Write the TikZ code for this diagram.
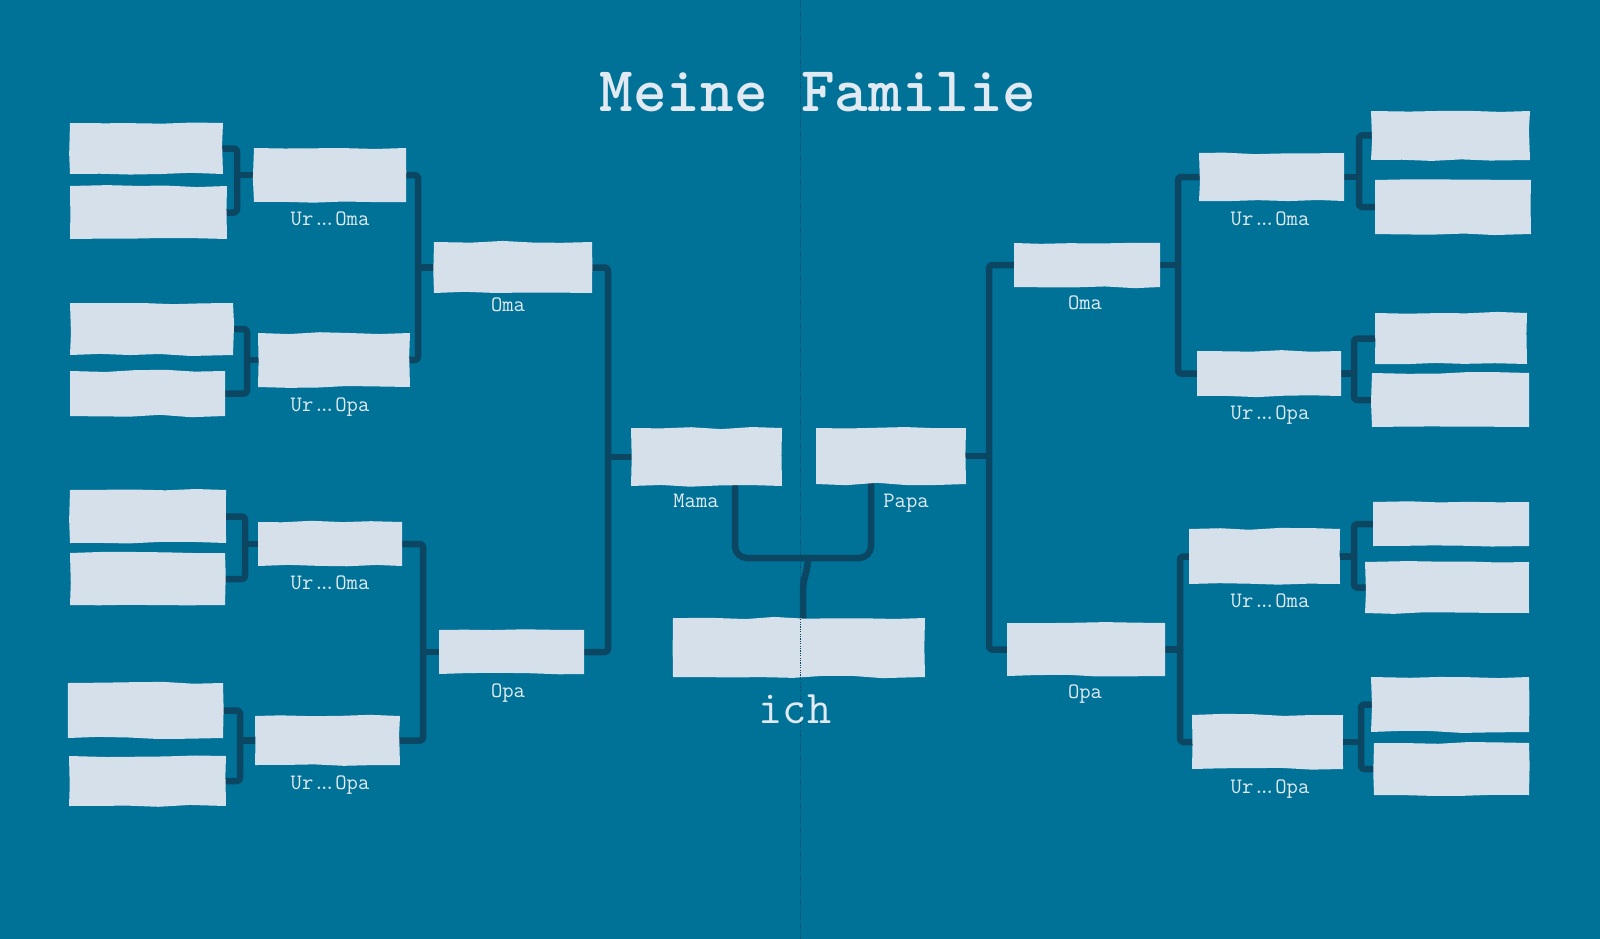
\documentclass[tikz,border=0pt]{standalone}
\usepackage{fontspec}
\usetikzlibrary{decorations.pathmorphing,backgrounds}
\definecolor{bg}{HTML}{007298}
\definecolor{boxc}{HTML}{D6E0EA}
\definecolor{linec}{HTML}{0B4763}
\definecolor{txt}{HTML}{E1EAF2}
\definecolor{foldc}{HTML}{0A4A66}
\newcommand\famdots{.\kern-6pt.\kern-6pt.}
\newcommand\famb[5]{\node[pbox,minimum width={(#4-#2)*1pt},minimum height={(#5-#3)*1pt}] (#1) at ({(#2+#4)/2},{(#3+#5)/2}) {};}
\newcommand\joinL[4]{\draw[conn] (#1.east) -- (#1.east -| #4) -- (#2.east -| #4) -- (#2.east); \draw[conn] (#3.west -| #4) -- (#3.west);}
\newcommand\joinR[4]{\draw[conn] (#1.west) -- (#1.west -| #4) -- (#2.west -| #4) -- (#2.west); \draw[conn] (#3.east -| #4) -- (#3.east);}
\begin{document}
\pgfmathsetseed{7}
\begin{tikzpicture}[x=1pt,y=-1pt,
  pbox/.style={fill=boxc, inner sep=0pt, decorate, decoration={random steps,segment length=30pt,amplitude=1.2pt}},
  conn/.style={draw=linec, line width=6.5pt, line cap=round, line join=round, rounded corners=3pt},
  lab/.style={text=txt, font=\ttfamily\fontsize{22}{22}\selectfont, anchor=base},
  ttl/.style={text=txt, font=\ttfamily\bfseries\fontsize{64}{64}\selectfont, anchor=base},
  ichs/.style={text=txt, font=\ttfamily\fontsize{47}{47}\selectfont, anchor=base}]
\useasboundingbox (0,0) rectangle (1600,939);
% left generation 4
\famb{L1}{70}{123}{223}{174}
\famb{L2}{70}{186}{227}{239}
\famb{L3}{70}{303}{233}{355}
\famb{L4}{70}{371}{225}{416}
\famb{L5}{70}{490}{226}{543}
\famb{L6}{70}{553}{225}{605}
\famb{L7}{68}{683}{223}{738}
\famb{L8}{69}{756}{226}{806}
% left generation 3
\famb{LA}{254}{148}{406}{202}
\famb{LB}{258}{333}{410}{387}
\famb{LC}{258}{522}{402}{566}
\famb{LD}{255}{716}{400}{765}
% left generation 2
\famb{LOma}{434}{242}{592}{293}
\famb{LOpa}{439}{630}{584}{674}
% parents and me
\famb{Mama}{631}{428}{782}{486}
\famb{Papa}{816}{428}{966}{484}
\famb{ich}{673}{618}{925}{677}
% right generation 2
\famb{ROma}{1014}{243}{1160}{287}
\famb{ROpa}{1007}{623}{1165}{676}
% right generation 3
\famb{RA}{1199}{153}{1344}{201}
\famb{RB}{1197}{351}{1341}{396}
\famb{RC}{1189}{529}{1340}{584}
\famb{RD}{1192}{715}{1343}{769}
% right generation 4
\famb{R1}{1371}{111}{1530}{160}
\famb{R2}{1375}{180}{1531}{234}
\famb{R3}{1375}{313}{1527}{364}
\famb{R4}{1372}{373}{1529}{427}
\famb{R5}{1373}{502}{1529}{546}
\famb{R6}{1365}{562}{1529}{613}
\famb{R7}{1371}{677}{1529}{732}
\famb{R8}{1374}{743}{1529}{795}
% vertical line positions
\coordinate (v1) at (237,0);
\coordinate (v2) at (247,0);
\coordinate (v3) at (245,0);
\coordinate (v4) at (240,0);
\coordinate (vA) at (418,0);
\coordinate (vB) at (423,0);
\coordinate (vM) at (608,0);
\coordinate (vP) at (989,0);
\coordinate (vR1) at (1178,0);
\coordinate (vR2) at (1180,0);
\coordinate (w1) at (1359,0);
\coordinate (w2) at (1354,0);
\coordinate (w3) at (1354,0);
\coordinate (w4) at (1361,0);
\coordinate (mx) at (735,558);
\coordinate (px) at (871,558);
\coordinate (jn) at (808,558);
\coordinate (jn2) at (803,590);
\begin{pgfonlayer}{background}
\fill[bg] (0,0) rectangle (1600,939);
\joinL{L1}{L2}{LA}{v1}
\joinL{L3}{L4}{LB}{v2}
\joinL{L5}{L6}{LC}{v3}
\joinL{L7}{L8}{LD}{v4}
\joinL{LA}{LB}{LOma}{vA}
\joinL{LC}{LD}{LOpa}{vB}
\joinL{LOma}{LOpa}{Mama}{vM}
\joinR{ROma}{ROpa}{Papa}{vP}
\joinR{RA}{RB}{ROma}{vR1}
\joinR{RC}{RD}{ROpa}{vR2}
\joinR{R1}{R2}{RA}{w1}
\joinR{R3}{R4}{RB}{w2}
\joinR{R5}{R6}{RC}{w3}
\joinR{R7}{R8}{RD}{w4}
\draw[conn, rounded corners=12pt] (Mama.south -| mx) -- (mx) -- (px) -- (Papa.south -| px);
\draw[conn, rounded corners=0pt] (jn) .. controls +(0,14) and +(0,-12) .. (jn2) -- (ich.north -| jn2);
\end{pgfonlayer}
% fold line
\draw[foldc, line width=0.8pt, dash pattern=on 1.2pt off 1.2pt] (800,0) -- (800,939);
% texts
\node[ttl] (title) at (818,112) {Meine Familie};
\node[ichs] (ichlab) at (795,723) {ich};
\node[lab] (tLA) at (330,225) {Ur\famdots Oma};
\node[lab] (tLOma) at (508,311) {Oma};
\node[lab] (tLB) at (330,411) {Ur\famdots Opa};
\node[lab] (tLC) at (330,589) {Ur\famdots Oma};
\node[lab] (tLOpa) at (508,697) {Opa};
\node[lab] (tLD) at (330,789) {Ur\famdots Opa};
\node[lab] (tMama) at (696,507) {Mama};
\node[lab] (tPapa) at (906,507) {Papa};
\node[lab] (tRA) at (1270,225) {Ur\famdots Oma};
\node[lab] (tROma) at (1085,309) {Oma};
\node[lab] (tRB) at (1270,419) {Ur\famdots Opa};
\node[lab] (tRC) at (1270,607) {Ur\famdots Oma};
\node[lab] (tROpa) at (1085,698) {Opa};
\node[lab] (tRD) at (1270,793) {Ur\famdots Opa};
\end{tikzpicture}
\end{document}
